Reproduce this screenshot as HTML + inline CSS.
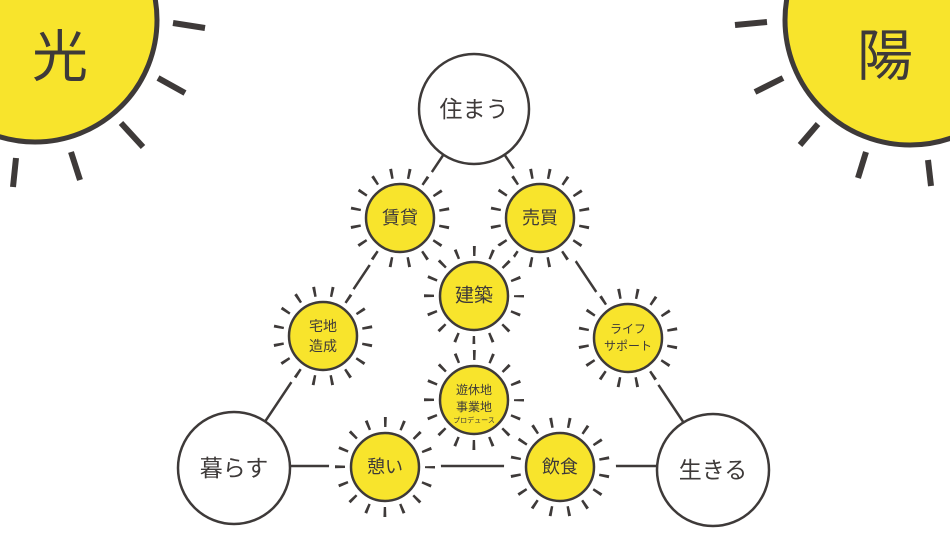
<!DOCTYPE html>
<html><head><meta charset="utf-8"><style>
html,body{margin:0;padding:0;background:#fff;width:950px;height:540px;overflow:hidden}
svg text{font-family:"Liberation Sans","Noto Sans CJK JP",sans-serif;fill:#3e3a39;text-anchor:middle;dominant-baseline:central}
</style></head><body>
<svg width="950" height="540" viewBox="0 0 950 540" xmlns="http://www.w3.org/2000/svg">
<defs>
<g id="sunA">
<circle r="56" fill="#fff"/>
<circle r="45" fill="none" stroke="#3e3a39" stroke-width="10" stroke-dasharray="2.7 14.97" stroke-dashoffset="1.35"/>
<circle r="34" fill="#f8e42c" stroke="#3e3a39" stroke-width="2.5"/>
</g>
<g id="sunB">
<circle r="56" fill="#fff"/>
<circle r="45" fill="none" stroke="#3e3a39" stroke-width="10" stroke-dasharray="2.7 14.97" stroke-dashoffset="-7.49"/>
<circle r="34" fill="#f8e42c" stroke="#3e3a39" stroke-width="2.5"/>
</g>
</defs>
<g stroke="#3e3a39" stroke-width="2.5" fill="none">
<line x1="474" y1="109" x2="234" y2="468"/>
<line x1="474" y1="109" x2="714" y2="468"/>
<line x1="234" y1="466" x2="714" y2="466"/>
<line x1="474" y1="296" x2="474" y2="400"/>
</g>
<use href="#sunB" x="400" y="218"/>
<use href="#sunB" x="540" y="218"/>
<use href="#sunA" x="474" y="296"/>
<use href="#sunB" x="323" y="336"/>
<use href="#sunB" x="628" y="338"/>
<use href="#sunA" x="474" y="400"/>
<use href="#sunA" x="385" y="467"/>
<use href="#sunB" x="560" y="467"/>
<g stroke="#3e3a39" stroke-width="6">
<line x1="173" y1="23" x2="205" y2="28"/><line x1="158" y1="78" x2="185" y2="93"/><line x1="121" y1="123" x2="143" y2="147"/><line x1="71" y1="152" x2="80" y2="180"/><line x1="16" y1="158" x2="13" y2="187"/>
<line x1="735" y1="25" x2="767" y2="22"/><line x1="755" y1="92" x2="783" y2="78"/><line x1="800" y1="145" x2="818" y2="124"/><line x1="858" y1="178" x2="866" y2="152"/><line x1="928" y1="160" x2="931" y2="186"/>
</g>
<circle cx="35" cy="20" r="122" fill="#f8e42c" stroke="#3e3a39" stroke-width="5"/>
<circle cx="910" cy="20" r="125" fill="#f8e42c" stroke="#3e3a39" stroke-width="5"/>
<text x="60" y="57" font-size="56">光</text>
<text x="885" y="56" font-size="56">陽</text>
<g fill="#fff" stroke="#3e3a39" stroke-width="2.5">
<circle cx="474" cy="109" r="55"/>
<circle cx="234" cy="468" r="56"/>
<circle cx="713" cy="470" r="56"/>
</g>
<text x="474" y="109" font-size="23">住まう</text>
<text x="234" y="468" font-size="23">暮らす</text>
<text x="713" y="470" font-size="23">生きる</text>
<text x="400" y="218" font-size="18">賃貸</text>
<text x="540" y="218" font-size="18">売買</text>
<text x="474" y="296" font-size="19">建築</text>
<text x="323" y="326" font-size="14">宅地</text>
<text x="323" y="346" font-size="14">造成</text>
<text x="628" y="329" font-size="12">ライフ</text>
<text x="628" y="346" font-size="12">サポート</text>
<text x="474" y="390" font-size="12">遊休地</text>
<text x="474" y="407" font-size="12">事業地</text>
<text x="474" y="421" font-size="7">プロデュース</text>
<text x="385" y="467" font-size="18">憩い</text>
<text x="560" y="467" font-size="18">飲食</text>
</svg>
</body></html>
